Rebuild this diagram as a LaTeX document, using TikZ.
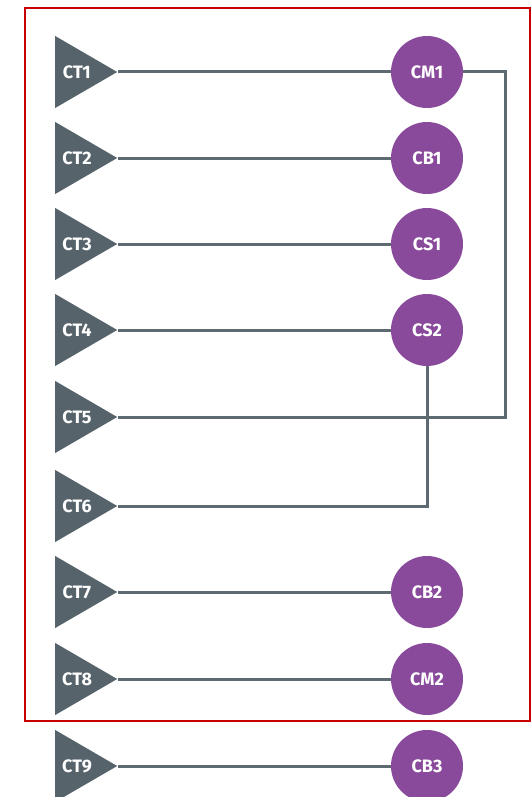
\documentclass[tikz,border=0pt]{standalone}
\usepackage{fontspec}
\setmainfont{Fira Sans}
\usetikzlibrary{shapes.geometric}

\definecolor{slate}{HTML}{57636B}
\definecolor{wirecol}{HTML}{5E6A72}
\definecolor{plum}{HTML}{8A4A9B}
\definecolor{frame}{HTML}{C80000}

\tikzset{
    ctri/.style={isosceles triangle, isosceles triangle stretches, shape border rotate=0,
        fill=slate, minimum width=72pt, minimum height=62pt, inner sep=0pt,
        anchor=lower side, text=white, font=\bfseries\fontsize{18}{18}\selectfont},
    cdot/.style={circle, fill=plum, minimum size=72pt, inner sep=0pt,
        text=white, font=\bfseries\fontsize{18}{18}\selectfont},
    wire/.style={draw=wirecol, line width=3pt}
}

\begin{document}
\begin{tikzpicture}[x=1pt, y=-1pt]
    \useasboundingbox (0, 0) rectangle (532, 797);
    \draw[frame, line width=2.5pt] (25, 8) rectangle (530, 721);

    \node[ctri] (ct1) at (55, 72) {CT1};
    \node[ctri] (ct2) at (55, 158) {CT2};
    \node[ctri] (ct3) at (55, 244) {CT3};
    \node[ctri] (ct4) at (55, 330) {CT4};
    \node[ctri] (ct5) at (55, 417) {CT5};
    \node[ctri] (ct6) at (55, 506) {CT6};
    \node[ctri] (ct7) at (55, 592) {CT7};
    \node[ctri] (ct8) at (55, 679) {CT8};
    \node[ctri] (ct9) at (55, 766) {CT9};

    \node[cdot] (cm1) at (427, 72) {CM1};
    \node[cdot] (cb1) at (427, 158) {CB1};
    \node[cdot] (cs1) at (427, 244) {CS1};
    \node[cdot] (cs2) at (427, 330) {CS2};
    \node[cdot] (cb2) at (427, 592) {CB2};
    \node[cdot] (cm2) at (427, 679) {CM2};
    \node[cdot] (cb3) at (427, 766) {CB3};

    % straight runs
    \draw[wire] (ct1.apex) -- (cm1.west);
    \draw[wire] (ct2.apex) -- (cb1.west);
    \draw[wire] (ct3.apex) -- (cs1.west);
    \draw[wire] (ct4.apex) -- (cs2.west);
    \draw[wire] (ct7.apex) -- (cb2.west);
    \draw[wire] (ct8.apex) -- (cm2.west);
    \draw[wire] (ct9.apex) -- (cb3.west);

    % crossed runs
    \draw[wire] (cm1.east) -- ++(42, 0) |- (ct5.apex);
    \draw[wire] (cs2.south) |- (ct6.apex);
\end{tikzpicture}
\end{document}
